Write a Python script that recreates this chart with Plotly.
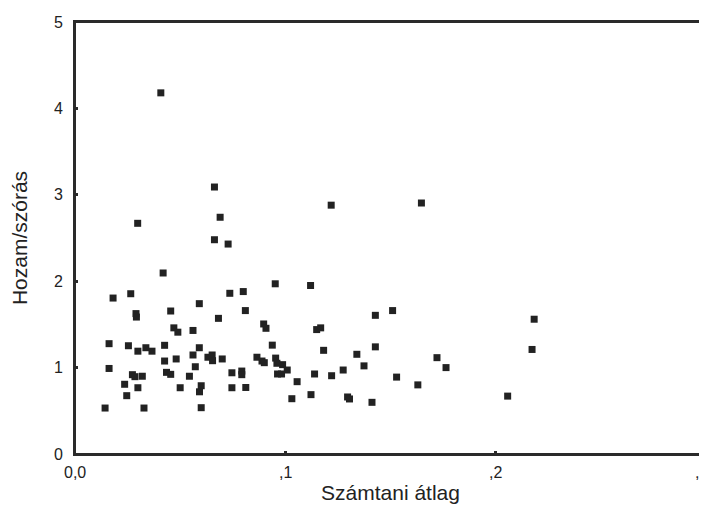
import plotly.graph_objects as go

x_vals = [0.0408, 0.0663, 0.0298, 0.069, 0.0663, 0.0728, 0.1218,
          0.1647, 0.151, 0.2183, 0.2173, 0.1721, 0.1764, 0.1529, 0.163, 0.2057,
          0.0419, 0.0952, 0.112, 0.0181, 0.0265, 0.0736, 0.080, 0.0591, 0.0455,
          0.081, 0.029, 0.0292, 0.0682, 0.1428, 0.0897, 0.0908, 0.047, 0.0489,
          0.0561, 0.1149, 0.1168, 0.0162, 0.0254, 0.0426, 0.0938, 0.1428, 0.0299,
          0.0337, 0.0366, 0.0591, 0.0561, 0.0426, 0.0481, 0.0632, 0.0652, 0.0654,
          0.070, 0.0865, 0.0889, 0.090, 0.0954, 0.096, 0.0987, 0.1182, 0.134,
          0.0162, 0.0572, 0.1009, 0.1275, 0.1374, 0.0273, 0.0285, 0.032, 0.0435,
          0.0455, 0.0544, 0.0746, 0.0793, 0.0793, 0.0963, 0.0982, 0.1139, 0.122,
          0.0236, 0.1056, 0.0299, 0.050, 0.060, 0.0592, 0.0746, 0.0812, 0.0246,
          0.1031, 0.1122, 0.1296, 0.1305, 0.1412, 0.0143, 0.0328, 0.060]
y_vals = [4.18, 3.09, 2.67, 2.74, 2.48, 2.43, 2.88,
          2.905, 1.66, 1.56, 1.21, 1.115, 1.00, 0.89, 0.80, 0.67,
          2.095, 1.97, 1.95, 1.805, 1.855, 1.86, 1.88, 1.74, 1.655,
          1.66, 1.625, 1.585, 1.57, 1.605, 1.505, 1.455, 1.46, 1.41,
          1.43, 1.44, 1.46, 1.277, 1.253, 1.258, 1.26, 1.24, 1.19,
          1.23, 1.19, 1.23, 1.146, 1.076, 1.10, 1.12, 1.146, 1.08,
          1.10, 1.12, 1.076, 1.057, 1.11, 1.05, 1.034, 1.20, 1.154,
          0.99, 1.01, 0.972, 0.972, 1.02, 0.918, 0.895, 0.90, 0.945,
          0.922, 0.90, 0.94, 0.96, 0.918, 0.926, 0.926, 0.926, 0.906,
          0.807, 0.837, 0.767, 0.767, 0.79, 0.72, 0.767, 0.77, 0.675,
          0.64, 0.687, 0.66, 0.637, 0.598, 0.532, 0.532, 0.536]

x_range = [0, 0.3]
y_range = [0, 5]
x_tickvals = [0, 0.1, 0.2, 0.3]
x_ticktext = ["0,0", ",1", ",2", ",3"]
y_tickvals = [0, 1, 2, 3, 4, 5]
y_ticktext = ["0", "1", "2", "3", "4", "5"]

FRAME = "#2a2a2a"
TXT = "#222222"

W, H = 707, 531
ML, MR, MT, MB = 67, 7, 14, 85
PW, PH = W - ML - MR, H - MT - MB
lw_x = 2.0 / PW   # frame thickness in paper units (horizontal)
lw_y = 2.0 / PH   # frame thickness in paper units (vertical)

fig = go.Figure()
fig.add_trace(go.Scatter(
    x=x_vals, y=y_vals, mode="markers",
    marker=dict(symbol="square", size=7, color="#222222"),
    showlegend=False, cliponaxis=False,
))

# frame drawn as filled thin rectangles (paper coordinates)
frame = [
    (-lw_x / 2, -lw_y / 2, lw_x / 2, 1 + lw_y / 2),
    (1 - lw_x / 2, -lw_y / 2, 1 + lw_x / 2, 1 + lw_y / 2),
    (-lw_x / 2, -lw_y / 2, 1 + lw_x / 2, lw_y / 2),
    (-lw_x / 2, 1 - lw_y / 2, 1 + lw_x / 2, 1 + lw_y / 2),
]
shapes = [dict(type="rect", xref="paper", yref="paper", x0=a, y0=b, x1=c, y1=d,
               fillcolor=FRAME, line=dict(width=0), layer="above")
          for a, b, c, d in frame]

annotations = []
for i, (v, t) in enumerate(zip(x_tickvals, x_ticktext)):
    annotations.append(dict(x=v, y=0, xref="x", yref="paper", text=t,
                            showarrow=False, yanchor="top", yshift=-8,
                            xshift=(-5 if i == len(x_tickvals) - 1 else 0),
                            font=dict(family="Arial", size=16, color=TXT)))
for v, t in zip(y_tickvals, y_ticktext):
    annotations.append(dict(x=0, y=v, xref="paper", yref="y", text=t,
                            showarrow=False, xanchor="right", xshift=-10,
                            font=dict(family="Arial", size=16, color=TXT)))

fig.update_layout(
    width=W, height=H,
    margin=dict(l=ML, r=MR, t=MT, b=MB),
    paper_bgcolor="white", plot_bgcolor="white",
    font=dict(family="Arial", color=TXT, size=16),
    annotations=annotations,
    shapes=shapes,
    xaxis=dict(
        range=x_range, tickmode="array", tickvals=x_tickvals, showticklabels=False,
        showline=True, linecolor=FRAME, linewidth=2, mirror=True,
        showgrid=False, zeroline=False, ticks="inside", ticklen=3,
        tickwidth=3, tickcolor=FRAME,
        title=dict(text="Számtani átlag", font=dict(size=21), standoff=30),
    ),
    yaxis=dict(
        range=y_range, tickmode="array", tickvals=y_tickvals, showticklabels=False,
        showline=True, linecolor=FRAME, linewidth=2, mirror=True,
        showgrid=False, zeroline=False, ticks="inside", ticklen=3,
        tickwidth=3, tickcolor=FRAME,
        title=dict(text="Hozam/szórás", font=dict(size=21), standoff=42),
    ),
)

fig.write_html("out.html")
